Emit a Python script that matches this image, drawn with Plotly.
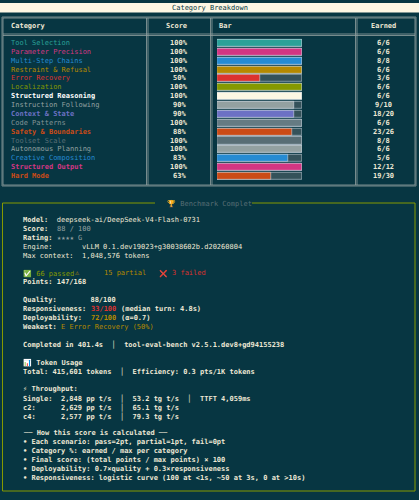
import plotly.graph_objects as go

categories = ["Tool Selection", "Parameter Precision", "Multi-Step Chains", "Restraint & Refusal",
              "Error Recovery", "Localization", "Structured Reasoning", "Instruction Following",
              "Context & State", "Code Patterns", "Safety & Boundaries", "Toolset Scale",
              "Autonomous Planning", "Creative Composition", "Structured Output", "Hard Mode"]
scores = [100, 100, 100, 100, 50, 100, 100, 90, 90, 100, 88, 100, 100, 83, 100, 63]
earned = ["6/6", "6/6", "8/8", "6/6", "3/6", "6/6", "6/6", "9/10", "18/20", "6/6",
          "23/26", "8/8", "6/6", "5/6", "12/12", "19/30"]
colors = ["#2aa198", "#d33682", "#268bd2", "#b58900", "#dc322f", "#859900", "#fdf6e3", "#93a1a1",
          "#6c71c4", "#657b83", "#cb4b16", "#586e75", "#93a1a1", "#268bd2", "#d33682", "#cb4b16"]
text_colors = ["#2aa198", "#d33682", "#268bd2", "#b58900", "#dc322f", "#859900", "#ffffff", "#93a1a1",
               "#6c71c4", "#839496", "#cb4b16", "#586e75", "#93a1a1", "#268bd2", "#d33682", "#cb4b16"]
bold_rows = [False, False, False, False, False, False, True, False,
             True, False, True, False, False, False, True, True]

W, H = 419, 500
BG = "#073642"
FONT = "DejaVu Sans Mono"
FG = "#eee8d5"

def px(x):
    return x / W

def py(y):
    return 1 - y / H

def nb(s):
    return s.replace(" ", "\u00a0")

fig = go.Figure()
rows = list(range(len(categories)))
fig.add_trace(go.Bar(y=rows, x=[100] * len(rows), orientation="h", marker_color="#34525a",
                     width=0.8, hoverinfo="skip"))
fig.add_trace(go.Bar(y=rows, x=scores, orientation="h", marker_color=colors, width=0.8))

row_top, row_step = 43, 8.87
y0 = row_top - row_step / 2
y1 = row_top + 15 * row_step + row_step / 2
fig.update_layout(
    width=W, height=H, margin=dict(l=0, r=0, t=0, b=0),
    paper_bgcolor=BG, plot_bgcolor=BG, showlegend=False, barmode="overlay", bargap=0,
    xaxis=dict(domain=[px(217), px(302)], range=[0, 100], visible=False),
    yaxis=dict(domain=[py(y1), py(y0)], range=[15.5, -0.5], visible=False),
)

shapes = []
ann = []

def text(x, y, s, color=FG, bold=False, anchor="left", size=7):
    s = nb(s)
    if bold:
        s = "<b>" + s + "</b>"
    ann.append(dict(x=px(x), y=py(y), xref="paper", yref="paper", text=s, showarrow=False,
                    xanchor=anchor, yanchor="middle", font=dict(family=FONT, size=size, color=color)))

# title bar
shapes.append(dict(type="rect", xref="paper", yref="paper", x0=px(0), x1=px(W), y0=py(12.5), y1=py(3),
                   fillcolor="#fdf6e3", line_width=0))
text(209.5, 8, "Category Breakdown", color="#073642", anchor="center")

# table borders
line_c = "#93a1a1"
for (a, b, c, d) in [(2, 17, 416, 186), (3, 18, 415, 185)]:
    shapes.append(dict(type="rect", xref="paper", yref="paper", x0=px(a), x1=px(c), y0=py(d), y1=py(b),
                       line=dict(color=line_c, width=0.8)))
for yy in [34, 35.5]:
    shapes.append(dict(type="line", xref="paper", yref="paper", x0=px(3), x1=px(415), y0=py(yy), y1=py(yy),
                       line=dict(color=line_c, width=0.8)))
for xx in [146.5, 148, 210.5, 212, 355.5, 357]:
    shapes.append(dict(type="line", xref="paper", yref="paper", x0=px(xx), x1=px(xx), y0=py(18), y1=py(185),
                       line=dict(color=line_c, width=0.8)))
text(9, 26, "Category", bold=True)
text(176, 26, "Score", bold=True, anchor="center")
text(217, 26, "Bar", bold=True)
text(383, 26, "Earned", bold=True, anchor="center")
for i, c in enumerate(categories):
    y = row_top + i * row_step
    text(9, y, c, color=text_colors[i], bold=bold_rows[i])
    text(179, y, f"{scores[i]}%", bold=True, anchor="center")
    text(383, y, earned[i], bold=True, anchor="center")

# benchmark box
green = "#859900"
shapes.append(dict(type="rect", xref="paper", yref="paper", x0=px(2.5), x1=px(415), y0=py(491), y1=py(203),
                   line=dict(color=green, width=1)))
shapes.append(dict(type="rect", xref="paper", yref="paper", x0=px(155), x1=px(252), y0=py(208), y1=py(198),
                   fillcolor=BG, line_width=0))
text(209, 203, "🏆 Benchmark Complet", color="#586e75", anchor="center")

X = 21
grey = "#93a1a1"
text(X, 220, "Model:")
ann[-1]["text"] = "<b>Model:</b>\u00a0\u00a0deepseek-ai/DeepSeek-V4-Flash-0731"
text(X, 229, "Score:", bold=True)
text(X + 34, 229, "88 / 100", color=grey)
text(X, 238, "Rating:", bold=True)
text(X + 34, 238, "★★★★ G", color=grey)
text(X, 247, "Engine:       vLLM 0.1.dev19023+g30038602b.d20260804")
text(X, 256, "Max context:  1,048,576 tokens")
text(X, 273, "✅ 66 passed", color=green)
text(73, 273, "⚠", color="#b58900")
text(102, 273, "15 partial", color="#b58900")
text(157, 273, "❌", color="#dc322f")
text(170, 273, "3 failed", color="#dc322f")
text(X, 282, "Points: 147/168", bold=True)
text(X, 300, "Quality:        88/100", bold=True)
text(X, 309, "Responsiveness:", bold=True)
text(X + 68, 309, "33/100", color="#dc322f", bold=True)
text(X + 98, 309, "(median turn: 4.8s)", bold=True)
text(X, 318, "Deployability:", bold=True)
text(X + 68, 318, "72/100", color="#b58900", bold=True)
text(X + 98, 318, "(α=0.7)", bold=True)
text(X, 327, "Weakest:", bold=True)
text(X + 38, 327, "E Error Recovery (50%)", color="#b58900")
text(X, 344, "Completed in 401.4s  │  tool-eval-bench v2.5.1.dev8+gd94155238", bold=True)
text(X, 362, "📊 Token Usage", bold=True)
text(X, 371, "Total: 415,601 tokens  │  Efficiency: 0.3 pts/1K tokens", bold=True)
text(X, 389, "⚡ Throughput:", bold=True)
text(X, 398, "Single:  2,848 pp t/s  │  53.2 tg t/s  │  TTFT 4,059ms", bold=True)
text(X, 407, "c2:      2,629 pp t/s  │  65.1 tg t/s", bold=True)
text(X, 416, "c4:      2,577 pp t/s  │  79.3 tg t/s", bold=True)
text(X, 433, "── How this score is calculated ──", bold=True)
bullets = ["• Each scenario: pass=2pt, partial=1pt, fail=0pt",
           "• Category %: earned / max per category",
           "• Final score: (total points / max points) × 100",
           "• Deployability: 0.7×quality + 0.3×responsiveness",
           "• Responsiveness: logistic curve (100 at <1s, ~50 at 3s, 0 at >10s)"]
for i, b in enumerate(bullets):
    text(X, 442 + 9 * i, b.replace("<", "&lt;").replace(">", "&gt;"), bold=True)

fig.update_layout(shapes=shapes, annotations=ann)
fig.write_html("out.html", config={"displayModeBar": False},
               post_script="document.body.style.margin='0';")
